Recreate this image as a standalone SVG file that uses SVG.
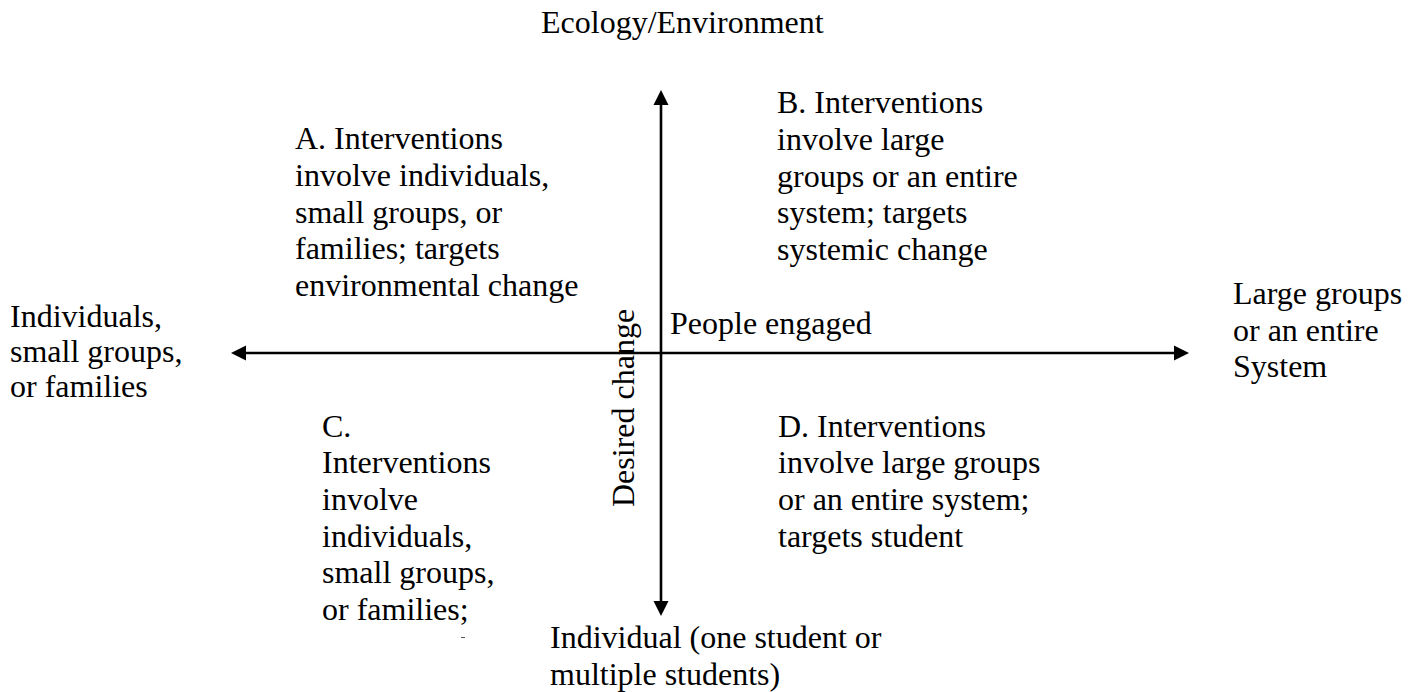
<svg xmlns="http://www.w3.org/2000/svg" width="1417" height="692" viewBox="0 0 1417 692">
  <style>
    text { font-family: "Liberation Serif", "Times New Roman", serif; font-size: 32px; fill: #000; }
    .axis { stroke: #000; stroke-width: 2.6; fill: none; }
  </style>
  <defs>
    <marker id="head" markerUnits="userSpaceOnUse" markerWidth="15" markerHeight="15" refX="0" refY="7.5" orient="auto-start-reverse" overflow="visible">
      <path d="M0,0 L15,7.5 L0,15 Z" fill="#000"/>
    </marker>
  </defs>
  <rect width="1417" height="692" fill="#fff"/>

  <!-- axes -->
  <g id="connectors">
    <line class="axis" x1="661" y1="105" x2="661" y2="601" marker-start="url(#head)" marker-end="url(#head)"/>
    <line class="axis" x1="246" y1="353" x2="1174" y2="353" marker-start="url(#head)" marker-end="url(#head)"/>
  </g>

  <!-- axis end labels -->
  <g id="top-label">
    <text x="541" y="33">Ecology/Environment</text>
  </g>
  <g id="bottom-label">
    <text x="550" y="648.3">Individual (one student or</text>
    <text x="550" y="685">multiple students)</text>
  </g>
  <g id="left-label">
    <text x="10" y="326.7">Individuals,</text>
    <text x="10" y="361.7">small groups,</text>
    <text x="10" y="396.7">or families</text>
  </g>
  <g id="right-label">
    <text x="1233" y="304.3">Large groups</text>
    <text x="1233" y="340.5">or an entire</text>
    <text x="1233" y="377">System</text>
  </g>

  <!-- axis names -->
  <g id="x-axis-name">
    <text x="670" y="334.3">People engaged</text>
  </g>
  <g id="y-axis-name">
    <text transform="translate(634,507) rotate(-90)">Desired change</text>
  </g>

  <!-- quadrants -->
  <g id="quadrant-a">
    <text x="295" y="149.3">A. Interventions</text>
    <text x="295" y="185.9">involve individuals,</text>
    <text x="295" y="222.5">small groups, or</text>
    <text x="295" y="259.1">families; targets</text>
    <text x="295" y="295.7">environmental change</text>
  </g>
  <g id="quadrant-b">
    <text x="777" y="113.3">B. Interventions</text>
    <text x="777" y="150">involve large</text>
    <text x="777" y="186.7">groups or an entire</text>
    <text x="777" y="223.4">system; targets</text>
    <text x="777" y="260.1">systemic change</text>
  </g>
  <g id="quadrant-c">
    <text x="322" y="436.7">C.</text>
    <text x="322" y="473.3">Interventions</text>
    <text x="322" y="510">involve</text>
    <text x="322" y="546.7">individuals,</text>
    <text x="322" y="583.3">small groups,</text>
    <text x="322" y="620">or families;</text>
    <line x1="461" y1="637.5" x2="465" y2="637.5" stroke="#555" stroke-width="1"/>
  </g>
  <g id="quadrant-d">
    <text x="778" y="436.7">D. Interventions</text>
    <text x="778" y="473.4">involve large groups</text>
    <text x="778" y="510.1">or an entire system;</text>
    <text x="778" y="546.8">targets student</text>
  </g>
</svg>
